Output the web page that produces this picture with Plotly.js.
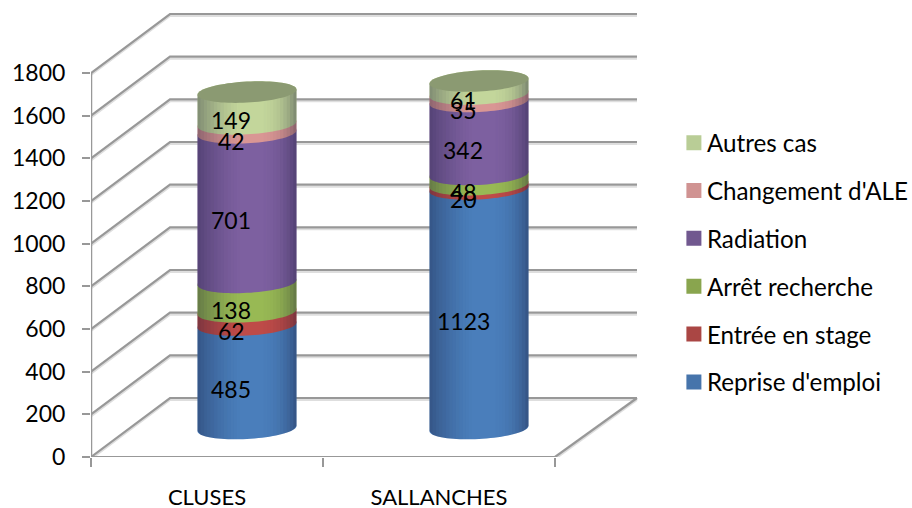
<!DOCTYPE html>
<html>
<head>
<meta charset="utf-8">
<script src="https://cdn.plot.ly/plotly-3.0.1.min.js"></script>
<style>html,body{margin:0;padding:0;background:#fff;overflow:hidden}</style>
</head>
<body>
<div id="chart" style="width:912px;height:508px"></div>
<script>
const categories = ['CLUSES', 'SALLANCHES'];
const seriesNames = ['Reprise d\'emploi', 'Entrée en stage', 'Arrêt recherche', 'Radiation', 'Changement d\'ALE', 'Autres cas'];
const repriseEmploi = [485, 1123];
const entreeStage = [62, 20];
const arretRecherche = [138, 48];
const radiation = [701, 342];
const changementALE = [42, 35];
const autresCas = [149, 61];
const yTicks = [0, 200, 400, 600, 800, 1000, 1200, 1400, 1600, 1800];
const legendColors = ['#4674AB', '#AA4644', '#89A54E', '#71588F', '#D09392', '#B9CD96'];
const bodyColors = ['#4A7EBB', '#BE4B48', '#98B954', '#7D60A0', '#D99694', '#C3D69B'];
const capColor = '#8B9A72';

const series = [repriseEmploi, entreeStage, arretRecherche, radiation, changementALE, autresCas];
// geometry, in pixels of the picture
const PXX = 232, PXY = 384 / 1800;
const L = 91, T = 10, FLOOR = 457, RIGHT = 640;
const ux = p => p / PXX, uy = p => p / PXY;
const xPos = i => i + 1;
const DEPTH_X = ux(79), DEPTH_Y = uy(59);
const FRONT_END = 2.5, WALL_END = 0.5 + ux(637 - L);
const CYL_DX = ux(40), CYL_DY = uy(28.5), RX = ux(49.5), RY = uy(10.5), TILT = uy(2.6), LABEL_DX = ux(-16), LABEL_DY = uy(16);
const FONT = 'Lato, "Open Sans", sans-serif';

const traces = [];
const line = (xs, ys, color, width) => ({type: 'scatter', mode: 'lines', x: xs, y: ys, showlegend: false, hoverinfo: 'skip', cliponaxis: false, line: {color, width}});

// back wall and side wall grid
yTicks.forEach(v => {
  const xs = [0.5, 0.5 + DEPTH_X, WALL_END], ys = [v, v + DEPTH_Y, v + DEPTH_Y];
  traces.push(line(xs, ys.map(y => y - uy(2)), '#DEDEDE', 2));
});
yTicks.forEach(v => {
  traces.push(line([0.5, 0.5 + DEPTH_X, WALL_END], [v, v + DEPTH_Y, v + DEPTH_Y], '#989898', 2.2));
});
// floor
traces.push(line([0.5, FRONT_END], [-uy(2), -uy(2)], '#DEDEDE', 2));
traces.push(line([FRONT_END, WALL_END], [-uy(2), DEPTH_Y - uy(2)], '#DEDEDE', 2));
traces.push(line([0.5, FRONT_END], [0, 0], '#989898', 2.2));
traces.push(line([FRONT_END, WALL_END], [0, DEPTH_Y], '#989898', 2.2));
// value axis line
traces.push(line([0.5, 0.5], [0, yTicks[yTicks.length - 1]], '#989898', 2.5));

// stacked columns
const cum = categories.map(() => 0);
const bases = [];
series.forEach((vals) => {
  bases.push(vals.map((v, i) => cum[i]));
  vals.forEach((v, i) => { cum[i] += v; });
});
// added last series first so the legend reads top of stack downwards
for (let s = series.length - 1; s >= 0; s--) {
  traces.push({
    type: 'bar', name: seriesNames[s], legendgroup: seriesNames[s],
    x: categories.map((c, i) => xPos(i) + CYL_DX),
    y: series[s], base: bases[s].map(b => b + CYL_DY),
    width: ux(76), marker: {color: legendColors[s]}, hoverinfo: 'skip'
  });
}

// cylinder outlines drawn from the same scales
const ts = [];
for (let k = 0; k <= 40; k++) ts.push(-Math.cos(Math.PI * k / 40));
const lowerArc = (c, y, list) => list.map(t => [c + RX * t, y + TILT * t - RY * Math.sqrt(1 - t * t)]);
const upperArc = (c, y, list) => list.map(t => [c + RX * t, y + TILT * t + RY * Math.sqrt(1 - t * t)]);
const toPath = pts => 'M' + pts.map(p => p[0].toFixed(4) + ',' + p[1].toFixed(2)).join('L') + 'Z';

const shapes = [];
const annotations = [];
const shade = t => t < -0.1 ? 0.38 * Math.pow((-0.1 - t) / 0.9, 1.5) : 0.42 * Math.pow(Math.max(0, (t - 0.1) / 0.9), 3);

categories.forEach((cat, i) => {
  const c = xPos(i) + CYL_DX;
  series.forEach((vals, s) => {
    const b = bases[s][i] + CYL_DY, top = b + vals[i];
    shapes.push({type: 'path', xref: 'x', yref: 'y', layer: 'above', path: toPath(lowerArc(c, b, ts).concat(upperArc(c, top, ts.slice().reverse()))), fillcolor: bodyColors[s], line: {width: 0}});
    annotations.push({xref: 'x', yref: 'y', x: c + LABEL_DX, y: bases[s][i] + vals[i] / 2 + LABEL_DY, text: String(vals[i]), showarrow: false, xanchor: 'center', yanchor: 'middle', font: {family: FONT, size: 23, color: '#000'}});
  });
  // shading strips
  const base = CYL_DY, top = cum[i] + CYL_DY, N = 30;
  for (let k = 0; k < N; k++) {
    const t0 = -1 + 2 * k / N, t1 = -1 + 2 * (k + 1) / N, tm = (t0 + t1) / 2;
    const a = shade(tm);
    if (a < 0.005) continue;
    const pts = lowerArc(c, base, [t0, t1]).concat([[c + RX * t1, top + TILT * t1], [c + RX * t0, top + TILT * t0]]);
    shapes.push({type: 'path', xref: 'x', yref: 'y', layer: 'above', path: toPath(pts), fillcolor: 'rgba(20,20,50,' + a.toFixed(3) + ')', line: {width: 0}});
  }
  // top cap
  shapes.push({type: 'path', xref: 'x', yref: 'y', layer: 'above', path: toPath(lowerArc(c, top, ts).concat(upperArc(c, top, ts.slice().reverse()))), fillcolor: capColor, line: {width: 0}});
});

const layout = {
  width: 912, height: 508,
  margin: {l: L, r: 912 - RIGHT, t: T, b: 508 - FLOOR, pad: 0, autoexpand: false},
  paper_bgcolor: '#fff', plot_bgcolor: '#fff',
  barmode: 'overlay', showlegend: true,
  font: {family: FONT, size: 22, color: '#000'},
  xaxis: {
    range: [0.5, 0.5 + ux(RIGHT - L)], tickmode: 'array', tickvals: categories.map((c, i) => xPos(i)), ticktext: categories,
    ticks: '', showgrid: false, zeroline: false, showline: false, ticklabelstandoff: 25,
    tickfont: {family: FONT, size: 22, color: '#000'},
    minor: {tickmode: 'array', tickvals: [0.5, 1.5, 2.5], ticks: 'outside', ticklen: 9, tickwidth: 2, tickcolor: '#989898', showgrid: false}
  },
  yaxis: {
    range: [0, (FLOOR - T) / PXY], tickmode: 'array', tickvals: yTicks, ticks: 'outside', ticklen: 8, tickwidth: 2, tickcolor: '#989898',
    showgrid: false, zeroline: false, showline: false, ticklabelstandoff: 12,
    tickfont: {family: FONT, size: 23, color: '#000'}
  },
  legend: {
    x: 1.049, xanchor: 'left', y: 0.753, yanchor: 'top', traceorder: 'grouped', tracegroupgap: 13.4,
    font: {family: FONT, size: 24.2, color: '#000'}, itemclick: false, itemdoubleclick: false, bgcolor: 'rgba(0,0,0,0)'
  },
  shapes, annotations
};

Plotly.newPlot('chart', traces, layout, {displayModeBar: false, staticPlot: true}).then(() => {
  document.querySelectorAll('.legend .legendpoints path').forEach(p => {
    p.setAttribute('transform', 'translate(27,0) scale(1.25)');
  });
});
</script>
</body>
</html>
